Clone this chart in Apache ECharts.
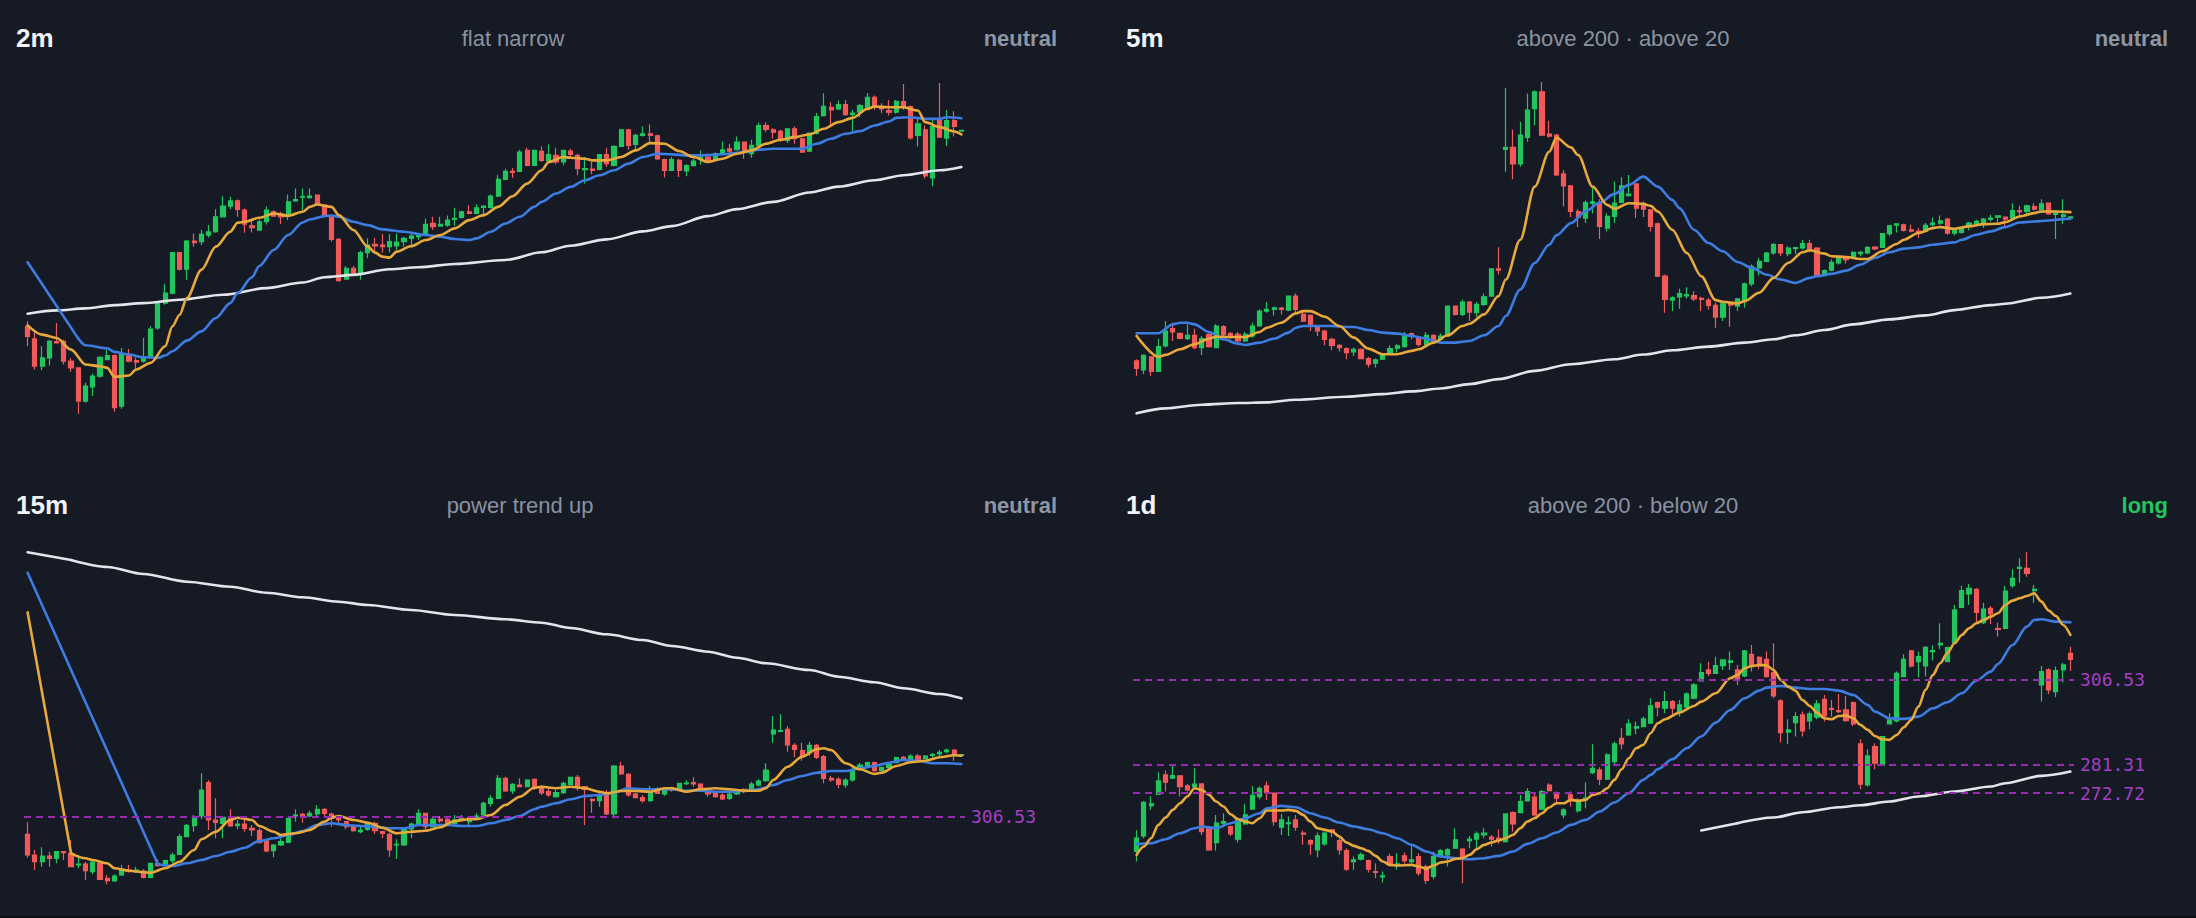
<!DOCTYPE html>
<html><head><meta charset="utf-8">
<script src="https://cdn.jsdelivr.net/npm/echarts@6/dist/echarts.min.js"></script>
<style>html,body{margin:0;padding:0;background:#0c0e13;overflow:hidden}#c{width:2196px;height:916px;background:#161a25}</style>
</head><body><div id="c"></div>
<script>
// ---------- text ----------
const frames = ['2m', '5m', '15m', '1d'];
const notes = ['flat narrow', 'above 200 · above 20', 'power trend up', 'above 200 · below 20'];
const bias = ['neutral', 'neutral', 'neutral', 'long'];

// ---------- axis value ranges (price) ----------
const ranges = [[305.36, 315.36], [301.7, 321.7], [299.8, 333.0], [245.6, 344.75]];

// ---------- horizontal levels ----------
const levels2m = [];
const levels5m = [];
const levels15m = [306.53];
const levels1d = [306.53, 281.31, 272.72];

// ---------- candles [open, close, low, high] ----------
const candles2m = [
[308.00,307.70,307.40,308.15],[307.62,306.80,306.70,307.85],[306.80,307.05,306.68,307.40],[307.05,307.55,306.82,307.60],
[307.54,307.50,307.50,308.10],[307.55,306.95,306.85,307.60],[306.95,306.75,306.63,307.05],[306.75,305.75,305.37,306.75],
[305.75,306.20,305.70,306.30],[306.18,306.50,305.90,306.58],[306.50,307.07,306.45,307.10],[307.00,307.12,306.98,307.30],
[307.12,305.55,305.43,307.15],[305.60,307.15,305.52,307.35],[307.15,306.95,306.92,307.32],[306.97,306.92,306.72,307.07],
[306.95,307.05,306.90,307.65],[307.10,307.92,307.05,308.00],[307.95,308.70,307.90,308.75],[308.70,309.00,308.65,309.28],
[309.00,310.22,308.97,310.25],[310.22,309.72,309.68,310.25],[309.72,310.57,309.40,310.60],[310.57,310.52,310.40,310.80],
[310.55,310.77,310.45,310.90],[310.75,310.85,310.68,311.05],[310.85,311.30,310.82,311.53],[311.30,311.62,311.28,311.92],
[311.62,311.78,311.53,311.90],[311.78,311.52,311.30,311.82],[311.50,311.08,310.82,311.55],[311.03,310.97,310.83,311.25],
[310.90,311.15,310.88,311.22],[311.15,311.50,311.07,311.62],[311.45,311.32,311.30,311.50],[311.38,311.30,311.08,311.45],
[311.35,311.75,311.20,311.97],[311.78,311.82,311.75,312.15],[311.89,311.91,311.50,312.15],[311.88,311.92,311.85,312.15],
[311.95,311.68,311.65,311.98],[311.65,311.35,311.35,311.67],[311.30,310.62,310.55,311.35],[310.62,309.38,309.35,310.65],
[309.42,309.75,309.40,309.82],[309.75,309.60,309.52,309.82],[309.60,310.22,309.40,310.28],[310.22,310.45,310.05,310.65],
[310.47,310.42,310.25,310.67],[310.45,310.40,310.22,310.78],[310.40,310.55,310.23,310.78],[310.42,310.54,310.30,310.80],
[310.55,310.65,310.40,310.70],[310.65,310.72,310.35,310.78],[310.70,310.78,310.60,310.80],[310.80,311.07,310.75,311.25],
[311.10,311.00,310.90,311.30],[311.02,311.07,311.00,311.30],[311.05,311.20,311.00,311.34],[311.22,311.25,311.03,311.57],
[311.28,311.45,311.25,311.48],[311.45,311.40,311.38,311.65],[311.40,311.57,311.38,311.68],[311.58,311.62,311.30,311.65],
[311.58,311.92,311.55,311.97],[311.92,312.43,311.90,312.57],[312.43,312.67,312.42,312.75],[312.67,312.64,312.47,312.77],
[312.67,313.25,312.65,313.32],[313.30,312.85,312.82,313.38],[312.85,313.30,312.83,313.32],[313.27,313.00,312.95,313.42],
[312.98,313.17,312.95,313.48],[313.15,312.95,312.88,313.38],[312.95,313.30,312.85,313.32],[313.28,313.18,313.10,313.35],
[313.15,312.75,312.55,313.20],[312.72,312.75,312.30,313.10],[312.74,312.70,312.58,312.95],[312.73,313.17,312.70,313.18],
[313.17,312.90,312.80,313.38],[312.85,313.42,312.82,313.45],[313.42,313.92,313.40,313.95],[313.92,313.45,313.32,313.95],
[313.48,313.75,313.30,313.80],[313.75,313.80,313.72,314.02],[313.80,313.75,313.55,314.08],[313.74,313.04,313.02,313.78],
[313.02,312.70,312.48,313.05],[312.70,313.02,312.67,313.10],[313.00,312.70,312.50,313.05],[312.68,312.84,312.52,312.88],
[312.84,312.98,312.82,313.05],[313.05,313.10,312.87,313.30],[313.10,313.00,312.98,313.20],[313.02,313.20,313.00,313.24],
[313.18,313.32,313.15,313.57],[313.35,313.28,313.22,313.50],[313.32,313.55,313.30,313.72],[313.55,313.30,313.05,313.57],
[313.20,313.45,313.08,313.62],[313.45,314.05,313.43,314.14],[314.05,313.93,313.85,314.15],[313.92,313.85,313.65,313.97],
[313.87,313.60,313.55,313.92],[313.60,313.95,313.52,313.97],[313.95,313.65,313.50,314.02],[313.65,313.25,313.22,313.67],
[313.28,313.82,313.25,313.85],[313.82,314.32,313.78,314.43],[314.35,314.63,314.32,315.02],[314.60,314.52,314.05,314.75],
[314.55,314.68,314.52,314.80],[314.68,314.38,314.35,314.82],[314.38,314.42,313.88,314.52],[314.45,314.65,314.30,314.70],
[314.60,314.90,314.57,315.03],[314.90,314.65,314.52,314.95],[314.60,314.55,314.42,314.72],[314.50,314.45,314.35,314.82],
[314.45,314.78,314.40,314.82],[314.77,314.60,314.52,315.30],[314.62,313.68,313.63,314.65],[313.75,314.10,313.42,314.25],
[313.92,312.53,312.45,314.05],[312.47,314.02,312.22,314.28],[314.25,313.70,313.67,315.33],[313.67,314.20,313.43,314.52],
[314.20,314.02,313.72,314.48],[313.88,313.90,313.87,313.92]
];
const candles5m = [
[304.90,304.44,304.00,305.00],[304.36,305.24,304.10,305.30],[305.14,304.26,304.00,305.20],[304.26,305.76,304.26,306.24],
[305.80,306.70,305.70,307.30],[306.84,306.64,306.10,307.20],[306.56,306.26,306.20,306.60],[306.24,306.44,306.16,307.10],
[306.44,305.70,305.60,306.84],[305.70,306.24,305.26,306.40],[306.50,305.76,305.70,306.56],[305.70,307.00,305.66,307.10],
[306.96,306.50,306.40,307.04],[306.54,306.44,306.20,306.64],[306.50,306.10,306.04,306.64],[306.10,306.50,306.04,306.64],
[306.40,307.00,306.30,307.20],[307.00,307.90,306.96,308.00],[307.90,308.00,307.80,308.44],[308.00,308.10,307.64,308.16],
[308.08,308.00,307.70,308.16],[307.96,308.80,307.90,308.84],[308.80,308.00,307.84,308.96],[307.70,307.30,307.24,307.84],
[307.64,307.00,306.70,307.70],[306.90,306.70,306.40,307.00],[306.70,306.20,305.84,306.76],[306.20,305.84,305.56,306.30],
[305.84,305.70,305.46,305.90],[305.64,305.40,305.00,305.70],[305.44,305.60,305.20,305.70],[305.60,305.04,305.00,305.64],
[305.04,304.70,304.50,305.14],[304.76,304.96,304.50,305.04],[305.00,305.30,304.96,305.36],[305.36,305.64,305.26,305.84],
[305.66,305.80,305.40,305.90],[305.76,306.40,305.70,306.64],[306.54,306.44,306.20,306.60],[306.30,305.90,305.76,306.40],
[305.90,306.44,305.84,306.64],[306.44,306.20,306.10,306.50],[306.20,306.40,306.10,306.56],[306.40,308.20,306.36,308.24],
[308.20,307.70,307.64,308.24],[307.70,308.44,307.60,308.60],[308.44,307.84,307.30,308.50],[307.80,308.30,307.56,308.44],
[308.30,308.76,308.20,308.96],[308.80,310.44,308.76,310.50],[310.44,310.36,310.10,311.74],[317.64,317.76,316.30,321.34],
[317.76,316.76,315.84,318.84],[316.76,318.50,316.60,319.30],[318.36,320.00,318.10,321.00],[320.10,321.10,319.10,321.20],
[321.10,318.50,318.44,321.70],[318.56,318.44,318.36,319.36],[318.50,316.10,316.04,318.56],[316.16,315.44,314.20,316.40],
[315.44,313.90,313.56,315.50],[313.90,313.56,312.96,314.04],[313.50,314.44,313.20,314.56],[314.40,314.48,313.80,315.40],
[314.40,313.00,312.24,314.64],[312.90,313.60,312.70,313.80],[313.60,314.40,313.20,315.70],[314.44,315.44,314.40,315.96],
[314.86,314.94,314.80,316.10],[315.56,314.10,313.50,315.60],[314.30,314.04,313.56,314.50],[314.00,313.00,312.70,314.04],
[313.16,310.00,309.96,313.24],[310.00,308.60,307.80,310.10],[308.56,308.70,307.90,308.80],[308.76,308.96,308.04,309.24],
[308.82,308.90,308.64,309.34],[308.84,308.64,308.50,309.10],[308.66,308.60,307.90,308.76],[308.56,308.24,308.00,308.70],
[308.24,307.54,306.90,308.40],[307.54,308.34,307.30,308.44],[308.34,308.26,306.96,308.40],[308.20,308.64,307.90,308.68],
[308.60,309.54,308.10,309.60],[309.54,310.60,309.40,310.70],[310.50,310.90,310.04,311.10],[310.90,311.40,310.84,311.48],
[311.40,311.90,311.30,312.00],[311.90,311.40,311.20,311.94],[311.36,311.70,311.20,311.80],[311.66,311.72,311.34,311.74],
[311.70,311.96,311.60,312.20],[311.96,311.56,311.44,312.20],[311.70,310.00,309.96,311.74],[310.04,310.34,310.00,310.40],
[310.36,310.84,310.30,311.00],[310.80,311.10,310.70,311.20],[311.14,311.00,310.76,311.20],[311.14,311.44,311.10,311.50],
[311.36,311.44,311.20,311.54],[311.40,311.74,311.32,311.80],[311.76,311.64,311.56,311.80],[311.74,312.56,311.70,312.60],
[312.56,313.04,312.44,313.10],[313.08,313.16,312.64,313.16],[313.10,312.76,312.70,313.16],[312.80,312.72,312.64,313.10],
[312.72,312.64,312.30,312.90],[312.70,313.06,312.64,313.20],[313.10,313.20,313.00,313.54],[313.20,313.34,313.10,313.66],
[313.44,312.60,312.50,313.50],[312.60,312.76,312.46,312.84],[312.64,312.90,312.56,313.00],[313.00,313.20,312.76,313.26],
[313.16,313.30,313.00,313.40],[313.24,313.44,312.90,313.50],[313.42,313.50,313.30,313.70],[313.56,313.64,313.24,313.64],
[313.56,313.44,313.00,313.60],[313.50,313.96,313.46,314.40],[313.96,313.88,313.60,314.24],[313.90,314.24,313.60,314.30],
[314.20,314.04,313.96,314.40],[314.00,314.36,313.96,314.64],[314.40,313.76,313.70,314.44],[313.72,313.80,312.24,313.90],
[313.60,313.70,313.16,314.64],[313.50,313.58,313.46,313.58]
];
const candles15m = [
[304.77,302.70,302.43,305.97],[302.70,302.03,301.20,303.20],[302.03,302.60,301.53,303.47],[302.60,302.37,301.53,303.03],
[302.37,303.03,301.87,303.10],[303.03,302.93,302.20,303.10],[302.87,301.53,301.47,304.20],[301.70,301.80,301.37,302.70],
[301.80,301.13,300.20,302.03],[301.03,301.97,300.77,302.20],[301.87,300.27,300.20,302.20],[300.37,300.13,299.77,300.70],
[300.10,300.60,300.03,300.77],[300.70,301.27,300.63,301.70],[301.20,301.10,300.93,301.70],[301.03,301.20,300.93,301.53],
[301.10,300.47,300.37,301.27],[300.47,301.87,300.37,301.93],[301.87,301.63,301.53,302.27],[301.70,302.13,301.53,302.20],
[302.13,302.70,301.87,302.93],[302.77,304.53,302.70,304.80],[304.53,305.63,304.47,305.80],[305.63,306.53,305.03,306.70],
[306.60,309.20,306.27,310.87],[309.93,306.20,305.20,310.20],[306.20,305.97,304.37,308.37],[305.87,306.47,304.37,306.53],
[306.37,305.60,305.53,307.27],[305.63,305.80,305.27,306.20],[305.80,305.37,305.03,306.37],[305.37,305.20,304.60,305.70],
[305.13,303.93,303.87,305.37],[304.13,303.10,302.97,304.20],[303.13,303.70,302.47,303.80],[303.70,304.03,303.60,304.37],
[303.97,306.37,303.93,306.43],[306.60,306.70,306.03,307.27],[306.77,306.63,305.93,306.93],[306.60,306.87,306.47,307.13],
[306.80,307.27,306.60,307.70],[307.27,306.87,306.53,307.37],[306.80,306.37,305.53,306.93],[306.53,306.20,305.87,306.60],
[306.03,305.53,305.27,306.10],[305.60,305.13,305.03,305.70],[305.03,305.20,304.87,305.53],[305.27,305.87,305.13,306.03],
[305.87,305.13,304.80,306.03],[305.03,304.87,304.37,305.13],[304.77,303.20,302.53,304.93],[303.70,303.77,302.30,304.27],
[303.70,305.27,303.60,305.37],[305.30,305.80,304.37,305.93],[305.80,306.87,305.70,307.27],[306.87,305.53,305.20,306.93],
[305.53,306.27,305.47,306.60],[306.30,306.10,305.93,306.60],[306.27,305.70,305.60,306.37],[305.87,306.20,305.53,306.70],
[306.20,306.37,306.13,306.70],[306.03,306.43,305.70,306.53],[306.37,306.60,306.27,306.87],[306.70,307.87,306.60,308.03],
[307.87,308.37,307.53,308.70],[308.37,310.37,308.27,310.70],[310.37,309.10,309.03,310.53],[309.10,309.77,308.80,309.87],
[309.70,309.53,309.47,310.37],[309.53,310.20,309.47,310.27],[310.27,309.53,309.20,310.37],[309.50,308.90,308.70,309.70],
[309.03,308.70,308.53,309.47],[308.53,308.93,308.43,309.20],[308.93,309.87,308.80,310.03],[309.77,310.47,309.70,310.53],
[310.47,309.53,309.13,310.70],[309.53,309.27,305.70,309.60],[308.27,308.13,306.93,308.37],[308.13,308.53,307.53,309.03],
[308.93,306.80,306.70,309.20],[306.80,311.60,306.37,311.70],[311.60,310.80,310.70,312.03],[310.77,308.70,308.53,310.87],
[308.80,308.43,308.37,308.93],[308.43,308.13,307.93,308.70],[308.13,309.03,308.03,309.60],[309.27,308.87,308.80,309.47],
[308.80,309.20,308.60,309.37],[309.43,309.20,309.03,309.53],[309.20,309.87,309.13,309.93],[309.83,309.90,309.70,310.20],
[309.93,309.80,309.53,310.47],[309.80,309.27,309.13,309.87],[309.27,308.80,308.53,309.37],[308.87,308.53,308.43,309.03],
[308.70,308.30,308.20,308.87],[308.37,308.80,308.20,308.93],[308.80,309.03,308.70,309.20],[309.27,309.03,308.87,309.37],
[309.20,309.80,309.03,310.03],[309.70,310.10,309.53,310.27],[310.13,311.20,310.03,311.87],[314.80,315.20,313.93,316.60],
[315.07,315.13,315.03,316.77],[315.27,313.70,313.03,315.60],[313.67,313.27,312.47,313.87],[313.13,312.60,312.13,313.93],
[312.93,313.67,312.60,314.03],[313.67,312.47,312.30,313.80],[312.53,310.37,309.87,312.70],[310.37,310.20,310.03,310.60],
[310.27,309.77,309.37,310.47],[309.70,310.20,309.43,310.37],[310.20,311.13,310.03,311.60],[311.47,311.70,311.37,311.93],
[311.60,311.93,311.47,312.03],[311.93,311.13,311.03,312.03],[311.13,311.47,311.03,311.53],[311.47,311.77,311.37,311.93],
[311.93,312.43,311.87,312.53],[312.47,312.30,312.13,312.60],[312.27,312.60,312.13,312.77],[312.60,312.27,312.13,312.80],
[312.37,312.60,312.27,312.70],[312.67,312.77,312.47,312.87],[312.80,312.97,312.60,313.20],[313.03,313.20,312.87,313.33],
[313.20,312.80,312.13,313.27],[312.67,312.73,312.60,312.77]
];
const candles1d = [
[255.30,259.28,252.31,261.76],[259.97,270.02,259.28,270.42],[269.03,269.53,267.74,271.91],[272.41,276.39,272.21,278.98],
[278.18,275.99,273.21,279.48],[277.19,277.98,276.99,280.87],[277.88,274.70,271.72,278.18],[274.90,273.71,273.21,275.50],
[274.70,275.40,274.20,280.17],[275.50,261.27,260.27,275.70],[262.26,255.80,255.50,262.56],[257.98,263.76,255.50,266.24],
[263.76,264.25,262.56,266.74],[262.76,260.57,259.97,262.96],[258.98,264.75,257.98,265.45],[263.56,266.24,263.26,269.53],
[267.93,272.11,267.74,274.90],[271.72,274.20,270.92,274.70],[274.90,272.91,270.72,276.19],[272.71,264.25,262.96,272.91],
[262.56,264.75,260.27,266.54],[263.66,263.86,259.97,265.75],[264.75,262.56,261.47,266.24],[260.77,260.47,257.29,261.57],
[258.58,257.59,254.30,258.98],[255.80,259.97,253.61,260.97],[257.59,260.77,256.99,261.27],[261.77,261.27,259.58,261.96],
[258.58,255.80,254.30,259.28],[255.60,250.02,249.53,256.29],[252.31,252.81,249.83,253.81],[253.01,254.30,252.61,255.00],
[252.61,250.02,249.03,252.81],[249.33,249.03,247.34,251.82],[247.74,248.03,246.04,249.33],[253.81,251.32,250.82,254.60],
[251.32,251.62,249.83,254.80],[254.00,252.61,251.62,255.00],[252.31,252.81,251.82,256.99],[253.81,248.83,248.03,254.80],
[250.82,246.64,245.65,251.32],[247.84,253.81,247.04,255.30],[254.00,255.60,253.61,256.00],[254.30,255.80,250.82,256.29],
[256.29,258.78,256.09,262.26],[256.00,253.01,245.85,256.29],[258.58,258.98,256.29,259.97],[258.98,260.57,256.29,261.27],
[260.27,260.77,259.28,262.26],[259.58,258.98,256.79,260.27],[259.28,258.78,257.59,261.96],[258.28,266.54,257.98,266.74],
[266.94,263.56,261.27,267.24],[266.94,270.22,266.74,272.21],[270.42,273.21,270.22,274.20],[271.52,266.24,265.75,272.71],
[267.93,273.21,267.74,273.71],[275.10,273.51,273.21,275.70],[272.71,271.22,269.73,273.21],[266.24,267.74,265.25,268.23],
[272.21,270.92,268.73,273.21],[267.54,270.22,266.94,271.22],[270.72,271.22,268.23,275.89],[278.88,280.17,278.48,287.34],
[279.68,276.89,275.20,280.47],[276.89,284.15,276.69,284.65],[282.16,287.44,281.17,288.13],[289.13,287.44,285.84,292.11],
[290.12,293.41,289.82,294.80],[292.11,292.61,290.32,294.10],[292.61,294.90,292.51,295.60],[293.61,298.78,293.41,301.07],
[299.77,298.38,295.60,300.07],[298.08,300.07,296.59,303.26],[300.07,298.08,295.60,300.57],[296.89,299.08,295.60,300.57],
[298.38,302.36,298.08,302.76],[301.07,305.05,300.77,305.55],[306.24,308.73,306.04,311.51],[309.53,308.53,307.73,312.01],
[308.53,310.82,308.33,313.50],[310.82,312.51,309.53,312.71],[311.81,312.21,309.53,315.00],[309.53,306.74,305.05,311.02],
[307.73,315.20,307.34,315.50],[314.20,310.82,309.03,316.99],[313.31,310.72,309.72,313.70],[312.71,307.54,307.34,315.00],
[308.73,301.76,301.07,317.49],[300.27,290.82,287.83,300.77],[290.92,291.62,287.44,294.80],[293.80,295.60,289.63,296.89],
[296.09,291.32,289.63,297.09],[294.30,296.39,291.81,297.09],[295.40,299.38,294.80,300.57],[300.77,295.79,294.10,302.06],
[298.08,297.78,295.60,300.57],[297.39,297.09,296.59,302.36],[297.58,294.40,294.10,301.76],[299.77,293.41,292.81,300.07],
[287.44,275.40,273.90,288.83],[275.20,283.85,274.70,285.84],[286.64,281.67,279.87,287.63],[281.17,289.63,280.87,289.82],
[293.41,294.60,293.30,296.59],[294.30,308.53,293.80,309.03],[307.54,312.71,307.34,314.20],[315.20,310.72,310.22,315.50],
[312.01,313.50,307.24,315.00],[310.72,316.29,307.54,316.69],[315.00,315.30,312.31,316.89],[316.99,317.49,315.79,323.46],
[312.01,316.19,311.81,316.49],[317.68,327.44,317.49,328.93],[328.23,333.21,327.93,334.70],[332.21,333.90,328.93,335.20],
[333.60,326.74,323.65,333.90],[323.65,327.73,323.26,329.62],[327.93,326.24,323.26,328.63],[321.86,321.66,319.48,323.65],
[321.96,333.11,321.66,334.60],[334.70,336.89,334.10,339.57],[339.87,340.17,335.59,342.86],[339.87,338.38,337.39,344.65],
[333.21,333.60,329.62,334.90],[305.05,309.03,300.07,310.72],[309.53,303.56,302.36,310.02],[303.06,309.33,301.37,310.52],
[309.53,311.02,305.74,311.71],[314.50,312.71,309.23,316.49]
];

// ---------- moving-average readings [candle index, price] ----------
const fast2m = [[0,308.03],[2,307.75],[4,307.65],[6,307.30],[8,306.85],[10,306.80],[11,306.75],[12,306.48],[14,306.52],[15,306.70],[17,306.90],[19,307.40],[20,308.00],[21,308.35],[22,308.85],[24,309.70],[26,310.40],[28,310.85],[29,311.12],[30,311.15],[32,311.27],[34,311.40],[36,311.33],[38,311.45],[39,311.60],[40,311.67],[42,311.60],[43,311.35],[45,310.90],[47,310.40],[48,310.22],[49,310.10],[50,310.07],[51,310.25],[53,310.42],[55,310.60],[57,310.75],[59,310.95],[61,311.20],[63,311.35],[65,311.60],[67,311.92],[69,312.30],[71,312.70],[72,312.95],[74,313.10],[75,313.08],[77,313.05],[78,313.00],[80,313.00],[82,313.10],[84,313.30],[86,313.52],[88,313.50],[90,313.28],[92,313.10],[94,312.95],[96,313.05],[98,313.20],[100,313.30],[102,313.50],[104,313.62],[106,313.70],[108,313.78],[110,313.95],[112,314.15],[114,314.28],[116,314.55],[117,314.62],[119,314.60],[121,314.60],[123,314.50],[124,314.15],[126,314.00],[128,313.87],[129,313.78]];
const mid2m = [[0,309.93],[7,307.63],[8,307.43],[11,307.34],[12,307.23],[14,307.15],[16,307.07],[18,307.05],[19,307.12],[20,307.25],[22,307.57],[24,307.85],[26,308.25],[28,308.70],[29,309.00],[31,309.48],[32,309.82],[34,310.30],[36,310.75],[38,311.13],[39,311.22],[41,311.32],[42,311.34],[43,311.30],[45,311.15],[47,311.05],[49,310.92],[52,310.85],[55,310.75],[57,310.70],[59,310.63],[61,310.60],[62,310.65],[64,310.85],[66,311.10],[68,311.30],[70,311.60],[71,311.75],[73,312.00],[75,312.20],[77,312.40],[79,312.55],[81,312.70],[83,312.90],[85,313.10],[87,313.20],[89,313.18],[91,313.15],[93,313.15],[95,313.17],[97,313.20],[99,313.25],[101,313.32],[103,313.35],[105,313.35],[107,313.35],[109,313.50],[111,313.65],[113,313.80],[115,313.88],[117,314.05],[119,314.17],[120,314.28],[122,314.30],[124,314.25],[126,314.25],[127,314.30],[129,314.27]];
const slow2m = [[0,308.38],[4,308.48],[8,308.54],[12,308.64],[16,308.70],[21,308.80],[27,308.95],[33,309.15],[38,309.32],[41,309.48],[45,309.55],[50,309.72],[54,309.78],[59,309.88],[66,310.00],[71,310.23],[75,310.43],[80,310.62],[85,310.86],[89,311.02],[94,311.32],[98,311.53],[103,311.75],[108,312.03],[112,312.21],[117,312.40],[121,312.55],[126,312.70],[129,312.80]];

const fast5m = [[0,306.40],[3,305.14],[4,305.26],[6,305.60],[8,305.90],[10,306.24],[11,306.36],[13,306.34],[15,306.34],[17,306.64],[18,306.90],[20,307.20],[22,307.76],[23,307.90],[24,307.90],[26,307.56],[28,307.00],[30,306.30],[32,305.64],[34,305.30],[36,305.30],[38,305.50],[39,305.60],[41,306.00],[43,306.44],[45,307.00],[46,307.14],[48,307.70],[50,308.80],[51,309.80],[53,312.20],[55,315.40],[57,317.50],[58,318.34],[60,317.76],[61,317.30],[63,315.40],[65,314.30],[66,314.06],[68,314.40],[70,314.36],[71,314.24],[72,313.90],[74,312.80],[76,311.40],[78,310.00],[80,308.56],[81,308.46],[83,308.36],[84,308.50],[86,309.00],[88,309.90],[90,310.80],[92,311.44],[93,311.56],[95,311.36],[96,311.20],[98,311.16],[100,311.04],[101,311.04],[103,311.50],[105,311.94],[106,312.20],[108,312.60],[110,312.90],[111,312.96],[113,312.86],[115,313.00],[117,313.14],[119,313.16],[120,313.26],[122,313.60],[124,313.80],[125,313.90],[127,313.90],[129,313.86]];
const mid5m = [[0,306.56],[3,306.56],[5,307.10],[6,307.20],[7,307.20],[8,307.10],[10,306.64],[12,306.20],[14,305.94],[15,305.86],[17,306.00],[19,306.24],[21,306.60],[22,306.90],[23,307.00],[25,307.00],[27,307.00],[29,306.94],[30,306.94],[32,306.76],[34,306.60],[36,306.54],[38,306.40],[40,306.24],[41,306.10],[42,306.00],[44,306.00],[46,306.10],[48,306.44],[50,307.00],[51,307.60],[53,309.20],[55,310.80],[57,311.90],[58,312.46],[60,313.20],[62,313.90],[64,314.44],[66,314.96],[68,315.50],[70,316.00],[72,315.40],[74,314.60],[75,314.10],[77,312.80],[79,312.00],[81,311.50],[83,310.86],[85,310.50],[87,310.10],[89,309.80],[91,309.60],[93,309.90],[94,310.00],[96,310.14],[98,310.34],[100,310.70],[102,311.10],[104,311.44],[106,311.66],[108,311.74],[110,311.90],[113,312.04],[114,312.20],[116,312.50],[118,312.70],[120,312.96],[122,313.24],[124,313.30],[126,313.36],[128,313.44],[129,313.46]];
const slow5m = [[0,301.74],[4,302.04],[9,302.26],[14,302.36],[18,302.40],[22,302.56],[29,302.74],[34,302.90],[38,303.06],[42,303.24],[46,303.50],[50,303.80],[55,304.30],[60,304.70],[66,305.00],[70,305.28],[74,305.54],[79,305.76],[84,306.00],[88,306.20],[91,306.44],[95,306.76],[99,307.10],[104,307.40],[109,307.64],[113,307.96],[118,308.26],[120,308.34],[125,308.70],[129,308.96]];

const fast15m = [[0,326.97],[6,302.87],[8,302.37],[9,302.20],[11,301.87],[12,301.37],[14,301.13],[16,300.97],[17,300.93],[19,301.37],[21,302.03],[23,303.20],[24,304.27],[26,305.03],[28,306.20],[29,306.43],[31,306.20],[32,305.60],[34,305.03],[35,304.70],[37,304.87],[39,305.20],[41,306.03],[42,306.43],[43,306.60],[45,306.20],[47,305.93],[49,305.43],[51,304.87],[53,305.03],[55,305.13],[57,305.47],[59,306.10],[61,306.27],[62,306.27],[64,306.70],[66,307.70],[68,308.53],[70,309.43],[71,309.53],[73,309.37],[75,309.53],[77,309.37],[79,309.03],[80,308.87],[82,309.10],[84,309.10],[86,309.03],[88,309.37],[89,309.37],[91,309.03],[93,309.27],[95,309.37],[97,309.27],[99,309.13],[101,309.13],[102,309.37],[103,310.20],[105,311.53],[107,312.53],[109,313.27],[110,313.37],[111,313.20],[113,311.87],[115,311.27],[117,310.80],[118,310.93],[120,311.60],[122,311.97],[124,312.13],[126,312.47],[128,312.67],[129,312.63]];
const mid15m = [[0,330.93],[18,301.77],[20,301.60],[22,301.87],[24,302.20],[26,302.60],[28,303.03],[30,303.43],[32,304.10],[34,304.37],[36,304.70],[38,305.10],[40,305.70],[42,305.87],[44,305.70],[46,305.60],[48,305.53],[50,305.37],[52,305.37],[54,305.70],[56,305.70],[58,305.70],[60,305.60],[62,305.60],[64,305.87],[66,306.20],[68,306.60],[70,307.27],[71,307.53],[73,307.87],[75,308.27],[77,308.60],[79,308.70],[81,308.93],[83,309.37],[85,309.27],[87,309.27],[89,309.27],[91,309.13],[93,309.13],[95,309.03],[97,309.03],[99,309.13],[101,309.27],[103,309.70],[105,310.20],[107,310.60],[109,310.93],[111,311.10],[113,311.10],[115,311.37],[117,311.60],[119,311.93],[121,312.20],[123,312.13],[125,311.87],[127,311.87],[129,311.80]];
const slow15m = [[0,332.97],[6,332.20],[11,331.50],[16,330.80],[22,330.03],[28,329.53],[33,328.93],[38,328.47],[43,328.03],[47,327.70],[53,327.20],[59,326.70],[66,326.27],[71,325.93],[75,325.40],[80,324.77],[85,324.20],[89,323.60],[94,323.03],[98,322.43],[102,321.87],[108,321.20],[112,320.53],[117,319.97],[121,319.37],[126,318.80],[129,318.37]];

const fast1d = [[0,254.30],[1,256.79],[2,259.28],[3,263.26],[4,265.45],[5,267.74],[6,269.73],[7,271.72],[8,274.20],[9,273.71],[10,272.21],[11,270.22],[12,268.73],[13,266.44],[14,264.95],[15,264.25],[16,263.76],[17,265.25],[18,267.54],[20,267.54],[21,267.74],[22,267.44],[23,266.24],[24,264.25],[25,262.26],[26,261.77],[27,261.27],[28,259.78],[29,257.98],[30,256.99],[31,256.29],[32,255.50],[33,254.00],[34,252.31],[35,251.32],[36,251.12],[38,251.32],[39,250.82],[40,250.12],[41,251.12],[42,252.01],[43,252.31],[44,253.11],[45,253.31],[46,254.30],[47,256.00],[48,257.29],[49,257.98],[50,258.58],[51,259.28],[52,260.27],[53,262.26],[54,264.25],[55,265.25],[56,266.74],[57,268.43],[58,269.73],[59,269.73],[60,270.72],[61,270.42],[62,270.72],[63,272.21],[64,272.71],[65,274.20],[66,276.69],[67,279.87],[68,283.16],[69,286.14],[70,287.14],[71,290.62],[72,293.61],[73,294.80],[75,296.79],[77,298.78],[78,300.07],[80,302.56],[82,307.04],[83,308.03],[84,310.02],[85,310.72],[86,311.02],[87,310.92],[88,309.53],[89,306.54],[90,304.55],[91,303.36],[92,300.57],[93,298.78],[94,296.79],[95,295.10],[96,294.80],[97,295.79],[98,295.89],[99,295.10],[100,293.11],[101,291.62],[102,289.82],[103,288.83],[104,288.63],[105,290.12],[106,292.41],[107,294.60],[108,298.58],[109,303.56],[110,308.03],[111,311.51],[112,314.50],[113,317.49],[114,319.97],[115,321.96],[116,323.46],[117,324.45],[118,325.45],[119,326.44],[120,328.93],[121,330.22],[122,330.92],[123,331.61],[124,332.41],[125,329.92],[126,327.24],[127,325.64],[128,322.96],[129,319.97]];
const mid1d = [[0,257.59],[2,257.79],[4,258.98],[6,260.77],[8,262.26],[9,262.76],[11,262.26],[13,263.76],[15,265.25],[17,266.74],[18,268.23],[20,268.93],[22,268.53],[24,266.74],[26,265.45],[28,263.95],[30,262.76],[32,261.96],[34,260.77],[36,259.28],[38,257.29],[40,255.30],[42,253.81],[44,253.31],[46,253.01],[48,253.31],[50,254.00],[52,255.30],[54,257.59],[56,259.28],[58,260.97],[60,263.26],[62,264.75],[64,267.24],[66,269.92],[68,272.71],[70,276.69],[71,278.18],[72,279.87],[74,282.86],[76,286.14],[78,289.63],[80,293.80],[82,297.58],[84,301.07],[86,303.36],[87,304.25],[89,304.75],[91,304.25],[93,303.85],[95,303.85],[97,303.36],[99,302.06],[101,299.08],[102,297.09],[104,295.10],[106,294.90],[108,295.60],[110,298.08],[112,299.88],[114,302.56],[116,306.34],[118,309.03],[119,311.32],[121,316.99],[123,322.46],[124,324.45],[125,324.65],[127,323.95],[129,323.75]];
const slow1d = [[78,261.57],[83,263.76],[88,265.45],[92,267.04],[97,268.53],[100,269.13],[104,270.22],[108,271.72],[113,273.21],[118,274.70],[120,275.70],[125,277.88],[129,279.18]];

// ---------- assembly ----------
const bars = Array.from({length: candles2m.length}, (_, i) => String(i + 1));
const panelData = [
  {candles: candles2m, fast: fast2m, mid: mid2m, slow: slow2m, levels: levels2m},
  {candles: candles5m, fast: fast5m, mid: mid5m, slow: slow5m, levels: levels5m},
  {candles: candles15m, fast: fast15m, mid: mid15m, slow: slow15m, levels: levels15m},
  {candles: candles1d, fast: fast1d, mid: mid1d, slow: slow1d, levels: levels1d}
];

const UP = '#22c55e', DOWN = '#f25a5a', GOLD = '#e8a93c', BLUE = '#3d7ce0', PALE = '#e3e5ea';
const LEVEL = '#9a2bb0', LEVEL_TXT = '#a53fc2';
const FONT = '"Liberation Sans", Arial, "Noto Sans", sans-serif';
const boxes = [
  {left: 24, top: 82}, {left: 1133, top: 82}, {left: 24, top: 552}, {left: 1133, top: 552}
];
const heads = [
  {x: 16, y: 38, mid: 513, right: 1057}, {x: 1126, y: 38, mid: 1623, right: 2168},
  {x: 16, y: 505, mid: 520, right: 1057}, {x: 1126, y: 505, mid: 1633, right: 2168}
];

const grid = [], xAxis = [], yAxis = [], series = [], graphic = [];
function addLine(data, k, color) {
  let rest = data;
  if (data.length > 1 && data[1][0] - data[0][0] > 4) {
    series.push({type: 'line', xAxisIndex: k, yAxisIndex: k, data: data.slice(0, 2), smooth: false,
      symbol: 'none', silent: true, animation: false, z: 4, lineStyle: {color, width: 2.6, cap: 'round', join: 'round'}});
    rest = data.slice(1);
  }
  series.push({type: 'line', xAxisIndex: k, yAxisIndex: k, data: rest, smooth: 0.3, smoothMonotone: 'x',
    symbol: 'none', silent: true, animation: false, z: 4, lineStyle: {color, width: 2.6, cap: 'round', join: 'round'}});
}
panelData.forEach((p, k) => {
  grid.push({left: boxes[k].left, top: boxes[k].top, width: 941, height: 332, containLabel: false});
  xAxis.push({type: 'category', gridIndex: k, data: bars, boundaryGap: true, show: false});
  yAxis.push({type: 'value', gridIndex: k, min: ranges[k][0], max: ranges[k][1], show: false, splitLine: {show: false}});
  const cs = {
    type: 'candlestick', xAxisIndex: k, yAxisIndex: k, data: p.candles, barWidth: '64%', animation: false, z: 2,
    itemStyle: {color: UP, color0: DOWN, borderColor: UP, borderColor0: DOWN, borderColorDoji: UP, borderWidth: 1.2}
  };
  if (p.levels.length) {
    cs.markLine = {
      silent: true, animation: false, symbol: ['none', 'none'], precision: 2,
      lineStyle: {color: LEVEL, width: 2.2, type: [7, 5], opacity: 1},
      label: {show: true, position: 'end', distance: 6, formatter: (d) => Number(d.value).toFixed(2),
        color: LEVEL_TXT, fontFamily: '"DejaVu Sans Mono", monospace', fontSize: 18},
      data: p.levels.map(v => ({yAxis: v}))
    };
  }
  series.push(cs);
  addLine(p.slow, k, PALE);
  addLine(p.mid, k, BLUE);
  addLine(p.fast, k, GOLD);

  const h = heads[k];
  graphic.push({type: 'text', x: h.x, y: h.y, silent: true, style: {text: frames[k], fill: '#f1f3f6',
    font: 'bold 26px ' + FONT, textAlign: 'left', textVerticalAlign: 'middle', align: 'left', verticalAlign: 'middle'}});
  graphic.push({type: 'text', x: h.mid, y: h.y, silent: true, style: {text: notes[k], fill: '#8a92a0',
    font: '22px ' + FONT, textAlign: 'center', textVerticalAlign: 'middle', align: 'center', verticalAlign: 'middle'}});
  graphic.push({type: 'text', x: h.right, y: h.y, silent: true, style: {text: bias[k],
    fill: bias[k] === 'long' ? UP : '#8e96a4',
    font: 'bold 22px ' + FONT, textAlign: 'right', textVerticalAlign: 'middle', align: 'right', verticalAlign: 'middle'}});
});

const chart = echarts.init(document.getElementById('c'), null, {renderer: 'svg'});
chart.setOption({
  backgroundColor: '#161a25',
  animation: false,
  grid, xAxis, yAxis, series, graphic,
  tooltip: {show: false}
});
</script></body></html>
